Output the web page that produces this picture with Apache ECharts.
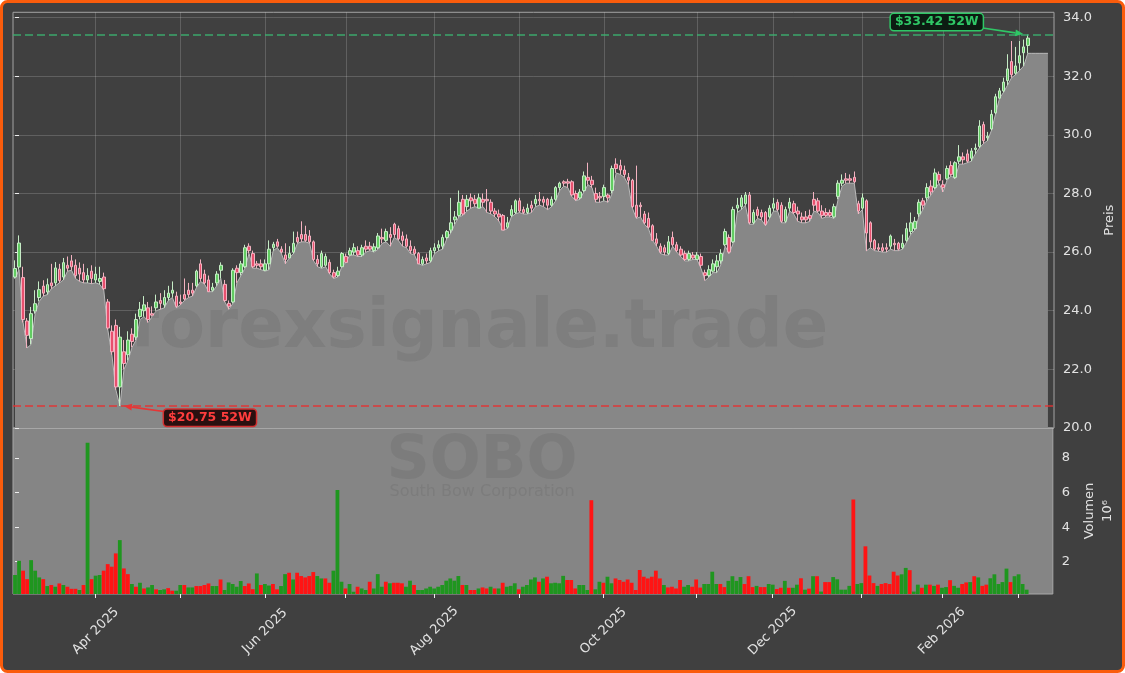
<!DOCTYPE html>
<html><head><meta charset="utf-8">
<script src="https://cdn.jsdelivr.net/npm/echarts@6/dist/echarts.min.js"></script>
<style>html,body{margin:0;padding:0;background:#ffffff;}#c{width:1125px;height:673px;}</style>
</head><body><div id="c"></div>
<script>
// ---- data (trading sessions: index 0 = 2025-03-04 ... index 251 = 2026-03-04) ----
const monthTickIdx = [20,41,62,82,104,125,146,169,188,210,230,249];
const monthTickLabels = ['Apr 2025','May 2025','Jun 2025','Jul 2025','Aug 2025','Sep 2025','Oct 2025','Nov 2025','Dec 2025','Jan 2026','Feb 2026','Mar 2026'];
const labelledMonths = ['Apr 2025','Jun 2025','Aug 2025','Oct 2025','Dec 2025','Feb 2026'];
const priceTicks = [20,22,24,26,28,30,32,34];
const volumeTicks = [2,4,6,8];

const opens = [25.15,25.49,25.13,23.65,23.05,23.99,24.45,24.84,24.64,24.95,
24.95,25.42,25.15,25.55,25.70,25.55,25.45,25.30,25.05,25.35,
25.05,25.00,25.15,24.30,23.30,23.50,21.40,22.60,22.50,23.20,
23.10,23.80,24.00,24.10,23.90,24.10,24.35,24.20,24.45,24.60,
24.50,24.30,24.55,24.70,24.70,24.85,25.60,25.25,25.05,24.70,
24.95,25.38,24.90,24.25,24.30,25.45,25.30,25.50,26.20,25.95,
25.60,25.60,25.38,25.60,26.15,26.35,26.10,25.90,25.80,26.00,
26.50,26.60,26.60,26.55,26.35,25.75,25.50,25.55,25.65,25.30,
25.20,25.50,25.85,25.90,26.00,26.05,25.90,26.20,26.20,26.05,
26.15,26.50,26.40,26.60,26.95,26.80,26.55,26.45,26.20,26.10,
25.95,25.60,25.80,25.70,26.05,26.15,26.20,26.50,26.75,27.10,
27.25,27.80,27.55,27.85,27.80,27.50,27.80,27.80,27.70,27.40,
27.30,27.25,26.85,27.25,27.35,27.75,27.45,27.35,27.60,27.65,
27.80,27.80,27.80,27.60,27.80,28.20,28.40,28.40,28.40,28.00,
27.85,28.10,28.55,28.45,28.00,27.90,27.90,27.95,28.10,29.00,
28.95,28.80,28.55,28.45,27.60,27.60,27.30,27.15,26.90,26.45,
26.20,26.15,25.95,26.50,26.25,26.10,25.95,25.75,25.90,25.75,
25.85,25.30,25.20,25.35,25.50,25.70,26.25,26.50,26.35,27.50,
27.55,27.65,27.95,27.00,27.45,27.35,27.35,27.20,27.50,27.70,
27.60,27.05,27.50,27.65,27.40,27.20,27.20,27.25,27.80,27.75,
27.40,27.35,27.35,27.20,27.90,28.35,28.50,28.50,28.55,27.65,
27.50,27.75,27.00,26.40,26.15,26.15,26.15,26.20,26.30,26.30,
26.15,26.40,26.70,26.80,27.30,27.75,27.85,28.25,28.20,28.65,
28.30,28.50,28.95,28.55,29.10,29.25,29.35,29.20,29.50,29.60,
30.35,29.90,30.20,30.75,31.25,31.50,31.85,32.50,32.10,32.45,
32.80,33.05];
const closes = [25.44,26.31,23.70,23.16,23.90,24.24,24.72,24.60,24.89,24.85,
25.46,25.03,25.64,25.45,25.50,25.20,25.25,25.05,25.20,25.10,
25.25,25.10,24.75,23.41,22.60,21.40,23.10,22.20,23.00,22.95,
23.70,24.05,24.20,23.70,23.85,24.30,24.25,24.45,24.60,24.70,
24.15,24.25,24.40,24.55,24.60,25.35,25.10,24.95,24.65,24.80,
25.25,25.55,24.35,24.15,25.38,25.30,25.60,26.15,26.05,25.50,
25.55,25.50,25.60,26.10,26.27,26.20,26.00,25.75,25.95,26.30,
26.35,26.45,26.40,26.35,25.75,25.60,25.95,25.85,25.30,25.15,
25.35,25.95,25.65,26.05,26.15,25.90,26.15,26.10,26.10,26.18,
26.55,26.45,26.70,26.50,26.60,26.45,26.40,26.20,26.05,25.95,
25.60,25.75,25.70,26.05,26.15,26.25,26.50,26.70,27.00,27.20,
27.70,27.30,27.80,27.75,27.65,27.85,27.70,27.75,27.40,27.30,
27.20,26.75,27.00,27.45,27.75,27.40,27.35,27.50,27.50,27.80,
27.75,27.70,27.60,27.80,28.20,28.35,28.35,28.35,27.95,27.80,
28.05,28.60,28.45,28.30,27.80,27.85,28.20,27.85,28.85,28.85,
28.80,28.65,28.45,27.55,27.20,27.55,27.00,26.85,26.40,26.30,
26.00,26.00,26.35,26.25,26.05,25.90,25.75,25.95,25.80,25.90,
25.55,25.20,25.40,25.60,25.70,25.95,26.70,26.00,27.45,27.60,
27.85,27.95,27.00,27.35,27.25,27.20,26.95,27.50,27.65,27.45,
27.05,27.45,27.70,27.35,27.30,27.10,27.10,27.15,27.60,27.40,
27.25,27.25,27.25,27.55,28.35,28.45,28.45,28.45,28.40,27.40,
27.85,26.65,26.35,26.10,26.10,26.05,26.10,26.55,26.25,26.10,
26.30,26.80,27.00,27.05,27.70,27.60,28.20,28.05,28.70,28.45,
28.20,28.85,28.65,29.05,29.25,29.15,29.10,29.45,29.55,30.30,
29.80,29.95,30.70,31.30,31.50,31.80,32.25,32.05,32.35,32.70,
33.00,33.30];
const lows = [25.10,25.40,23.60,22.73,22.85,23.90,24.32,24.50,24.55,24.75,
24.85,24.95,25.05,25.35,25.38,25.10,25.00,24.95,24.95,24.92,
24.95,24.90,24.70,23.35,22.50,21.30,20.75,22.00,22.30,22.75,
23.00,23.70,23.80,23.60,23.80,24.00,24.05,24.10,24.35,24.45,
24.10,24.20,24.35,24.45,24.50,24.80,25.00,24.90,24.65,24.65,
24.85,25.10,24.30,24.05,24.25,24.95,25.20,25.45,25.95,25.45,
25.45,25.40,25.35,25.40,26.05,26.15,25.95,25.60,25.80,25.95,
26.30,26.35,26.35,26.30,25.70,25.50,25.45,25.50,25.25,25.10,
25.15,25.50,25.65,25.90,25.90,25.85,25.85,26.00,26.05,26.00,
26.10,26.30,26.35,26.20,26.50,26.40,26.20,26.15,25.95,25.90,
25.60,25.55,25.60,25.65,25.95,26.05,26.10,26.45,26.65,26.95,
27.20,27.25,27.40,27.50,27.55,27.50,27.55,27.35,27.30,27.20,
27.05,26.75,26.80,27.20,27.30,27.35,27.30,27.30,27.35,27.55,
27.60,27.55,27.45,27.55,27.75,28.10,28.25,28.20,27.90,27.75,
27.80,28.05,28.30,28.20,27.70,27.70,27.75,27.70,28.00,28.70,
28.65,28.55,28.30,27.50,27.15,27.20,26.95,26.80,26.40,26.20,
25.95,25.90,25.90,26.20,26.00,25.85,25.70,25.70,25.75,25.75,
25.45,25.03,25.15,25.30,25.30,25.60,26.20,25.95,26.30,27.35,
27.45,27.60,26.95,26.95,27.15,27.10,26.90,27.15,27.40,27.40,
27.00,27.00,27.40,27.30,27.05,27.00,27.00,27.05,27.40,27.35,
27.15,27.20,27.20,27.15,27.80,28.25,28.35,28.35,28.35,27.30,
27.45,26.04,26.15,26.05,26.03,26.00,26.00,26.10,26.05,26.05,
26.10,26.35,26.60,26.75,27.20,27.45,27.75,27.95,28.15,28.35,
28.05,28.45,28.60,28.50,29.00,29.00,29.05,29.10,29.35,29.55,
29.70,29.80,30.15,30.70,31.25,31.45,31.70,31.95,32.05,32.20,
32.35,32.78];
const highs = [25.72,26.57,25.50,23.75,24.13,24.70,25.00,25.04,25.10,25.60,
25.66,25.60,25.80,25.85,25.90,25.75,25.65,25.60,25.45,25.55,
25.50,25.50,25.30,24.40,23.50,23.70,23.45,23.00,23.30,23.40,
23.90,24.30,24.50,24.30,24.15,24.55,24.60,24.70,24.85,25.00,
24.65,24.55,25.10,24.95,24.95,25.40,25.75,25.40,25.20,24.95,
25.35,25.65,25.05,24.35,25.45,25.55,25.70,26.25,26.30,26.05,
25.70,25.75,25.75,26.40,26.35,26.45,26.20,26.30,26.20,26.70,
26.70,27.05,26.90,26.75,26.40,25.90,26.05,25.95,25.75,25.40,
25.50,26.00,25.95,26.15,26.30,26.20,26.25,26.40,26.35,26.30,
26.65,26.80,26.80,26.85,27.00,26.90,26.70,26.60,26.40,26.20,
26.00,25.85,25.95,26.15,26.30,26.40,26.60,26.75,27.85,27.40,
28.10,27.95,27.95,28.00,27.95,28.00,28.00,28.15,27.80,27.50,
27.45,27.30,27.20,27.60,27.80,27.85,27.55,27.65,27.75,27.95,
28.05,27.90,27.85,27.90,28.25,28.40,28.45,28.50,28.45,28.10,
28.15,28.75,29.05,28.60,28.20,28.05,28.30,28.00,28.95,29.20,
29.15,28.95,28.70,28.50,28.95,27.70,27.40,27.35,26.95,26.65,
26.30,26.25,26.55,26.70,26.35,26.20,26.05,26.05,26.00,26.00,
25.95,25.40,25.55,25.75,25.90,26.10,26.80,26.60,27.55,27.85,
27.95,28.05,28.05,27.45,27.55,27.45,27.40,27.60,27.85,27.80,
27.70,27.55,27.85,27.75,27.55,27.35,27.40,27.45,28.05,27.85,
27.60,27.50,27.45,27.65,28.45,28.65,28.70,28.65,28.75,27.75,
28.00,27.80,27.05,26.45,26.30,26.30,26.30,26.60,26.45,26.35,
26.60,27.00,27.35,27.20,27.80,27.85,28.35,28.45,28.85,28.75,
28.45,28.95,29.10,29.10,29.65,29.40,29.50,29.55,29.70,30.50,
30.45,30.10,30.85,31.40,31.60,31.95,32.75,33.20,33.00,33.20,
33.25,33.42];
// low-price band is carried flat for five sessions past the last candle
const lowsExtension = [32.78,32.78,32.78,32.78,32.78];
// volume in millions
const volumes = [1.23,2.05,1.48,0.99,2.09,1.48,1.09,0.99,0.59,0.65,
0.55,0.74,0.65,0.55,0.43,0.43,0.36,0.65,8.88,0.99,
1.19,1.23,1.48,1.86,1.71,2.48,3.25,1.61,1.28,0.71,
0.55,0.78,0.45,0.51,0.65,0.40,0.36,0.40,0.47,0.32,
0.32,0.65,0.65,0.51,0.51,0.59,0.59,0.65,0.74,0.59,
0.59,0.97,0.36,0.80,0.71,0.55,0.88,0.59,0.74,0.41,
1.32,0.65,0.71,0.62,0.71,0.40,0.59,1.28,1.36,0.97,
1.36,1.17,1.09,1.17,1.40,1.17,1.03,1.03,0.78,1.48,
6.15,0.84,0.45,0.71,0.26,0.55,0.45,0.36,0.84,0.45,
1.28,0.55,0.84,0.75,0.78,0.78,0.75,0.55,0.90,0.65,
0.36,0.36,0.45,0.55,0.45,0.55,0.65,0.90,1.03,0.90,
1.17,0.65,0.65,0.36,0.36,0.45,0.51,0.45,0.55,0.45,
0.45,0.78,0.55,0.60,0.75,0.40,0.55,0.65,0.97,1.09,
0.84,1.03,1.13,0.75,0.78,0.75,1.18,0.94,0.94,0.45,
0.65,0.65,0.36,5.56,0.40,0.84,0.78,1.13,0.75,1.03,
0.94,0.84,0.97,0.78,0.36,1.52,1.13,1.03,1.13,1.48,
1.03,0.65,0.51,0.55,0.45,0.94,0.55,0.65,0.55,0.97,
0.50,0.71,0.71,1.42,0.71,0.71,0.53,0.89,1.16,0.89,
1.11,0.71,1.16,0.53,0.60,0.53,0.53,0.71,0.67,0.42,
0.49,0.89,0.49,0.49,0.67,1.04,0.38,0.44,1.16,1.16,
0.27,0.82,0.82,1.11,0.98,0.38,0.38,0.60,5.60,0.71,
0.76,2.89,1.20,0.76,0.60,0.71,0.76,0.71,1.42,1.20,
1.27,1.64,1.51,0.27,0.67,0.49,0.67,0.67,0.60,0.67,
0.49,0.53,0.93,0.60,0.49,0.71,0.80,0.82,1.16,1.09,
0.60,0.67,1.04,1.27,0.71,0.82,1.60,0.82,1.16,1.27,
0.71,0.38];
// G = up-volume bar, R = down-volume bar
const volumeDirection = ('GGRRGGGRGR'+'GRGRRRGRGR'+'GGRRRRGRRG'+'RGRGGRGGRR'+'GGRGGRRRRG'+
  'GRGGGGGRRR'+'GRGGRRGGRG'+'RRRRRGGRRG'+'GGRGGRGGRG'+'GGRGRRRGGR'+
  'GGGGGGGGGG'+'GRGRRGRRGR'+'GRGGGRGGGG'+'RGRGGGGRRR'+'GGGRGGRGGR'+
  'RRRRRRRRRR'+'RGRRRRGGRR'+'RGGGGRRGGG'+'GRRRGRRGGR'+'RGRGGRGRGR'+
  'GRRGGGGGRG'+'GRRRGRRRRR'+'GGRGGRGRGR'+'GGRGGRRGRG'+'RRGGGGGRGG'+'GG').split('');

// ---- chart ----
const FONT = '"DejaVu Sans", "Liberation Sans", sans-serif';
const TXT = '#e2e2e2';
const N = opens.length;
const X_MIN = -0.5, X_MAX = N + 5.5;

const candleData = opens.map((o, i) => [i, o, closes[i], lows[i], highs[i]]);
const areaData = lows.map((l, i) => [i, l]).concat(lowsExtension.map((l, k) => [N + k, l]));
const volData = volumes.map((v, i) => ({
  value: [i, v],
  itemStyle: { color: volumeDirection[i] === 'G' ? '#1f961f' : '#ff1414' }
}));
const hiVal = Math.max.apply(null, highs), hiIdx = highs.indexOf(hiVal);
const loVal = Math.min.apply(null, lows), loIdx = lows.indexOf(loVal);
const labelIdx = labelledMonths.map(m => monthTickIdx[monthTickLabels.indexOf(m)]);

const chart = echarts.init(document.getElementById('c'), null, { renderer: 'canvas', width: 1125, height: 673 });

chart.setOption({
  animation: false,
  backgroundColor: 'transparent',
  textStyle: { fontFamily: FONT },
  grid: [
    { left: 13, right: 71, top: 12.3, height: 415.7, show: true, backgroundColor: '#404040', borderColor: '#a3a3a3', borderWidth: 1, z: 0 },
    { left: 13, right: 71, top: 428, height: 166, show: true, backgroundColor: '#858585', borderColor: '#a8a8a8', borderWidth: 1, z: 0 }
  ],
  xAxis: [
    { type: 'value', gridIndex: 0, min: X_MIN, max: X_MAX,
      axisLine: { show: false }, axisLabel: { show: false },
      axisTick: { show: false, customValues: monthTickIdx },
      splitLine: { show: true, lineStyle: { color: 'rgba(255,255,255,0.17)', width: 1 } } },
    { type: 'value', gridIndex: 1, min: X_MIN, max: X_MAX,
      axisLine: { show: false },
      axisTick: { show: true, customValues: monthTickIdx, length: 4, lineStyle: { color: '#eeeeee', width: 1 } },
      axisLabel: { show: true, customValues: labelIdx, rotate: 45, align: 'center', verticalAlign: 'middle', margin: 37,
        color: TXT, fontSize: 13, fontFamily: FONT,
        formatter: v => monthTickLabels[monthTickIdx.indexOf(Math.round(v))] || '' },
      splitLine: { show: false } }
  ],
  yAxis: [
    { type: 'value', gridIndex: 0, position: 'right', min: 20, max: 34.18,
      axisLine: { show: false },
      axisTick: { show: true, customValues: priceTicks, length: 4, lineStyle: { color: '#eeeeee' } },
      axisLabel: { customValues: priceTicks, formatter: v => v.toFixed(1), color: TXT, fontSize: 13, fontFamily: FONT, margin: 9 },
      splitLine: { show: true, lineStyle: { color: 'rgba(255,255,255,0.17)', width: 1 } },
      name: 'Preis', nameLocation: 'middle', nameGap: 44,
      nameTextStyle: { color: TXT, fontSize: 13, fontFamily: FONT } },
    { type: 'value', gridIndex: 1, position: 'right', min: 0.13, max: 9.74,
      axisLine: { show: false },
      axisTick: { show: true, customValues: volumeTicks, length: 4, lineStyle: { color: '#eeeeee' } },
      axisLabel: { customValues: volumeTicks, formatter: v => String(v), color: TXT, fontSize: 13, fontFamily: FONT, margin: 9 },
      splitLine: { show: false },
      name: 'Volumen\n10\u2076', nameLocation: 'middle', nameGap: 23,
      nameTextStyle: { color: TXT, fontSize: 13, fontFamily: FONT, lineHeight: 18 } }
  ],
  series: [
    { type: 'line', name: 'low', xAxisIndex: 0, yAxisIndex: 0, data: areaData, symbol: 'none', z: 1,
      lineStyle: { color: '#b9b9b9', width: 1 }, areaStyle: { color: '#878787', opacity: 1, origin: 'start' } },
    { type: 'candlestick', name: 'SOBO', xAxisIndex: 0, yAxisIndex: 0, data: candleData, z: 3,
      encode: { x: 0, y: [1, 2, 3, 4] }, barWidth: 3,
      itemStyle: { color: '#62cc62', color0: '#e8506e', borderColor: '#c6ecc6', borderColor0: '#f3b3c1', borderWidth: 1 },
      markLine: { silent: true, symbol: 'none', label: { show: false },
        data: [
          { yAxis: hiVal, lineStyle: { color: 'rgba(60,179,113,0.9)', type: [8, 4], width: 1.5 } },
          { yAxis: loVal, lineStyle: { color: 'rgba(232,48,48,0.9)', type: [8, 4], width: 1.5 } }
        ] } },
    { type: 'bar', name: 'Volumen', xAxisIndex: 1, yAxisIndex: 1, data: volData, barWidth: 3.8, z: 3 }
  ]
});

function arrow(s, e, color) {
  const dx = e[0] - s[0], dy = e[1] - s[1], len = Math.hypot(dx, dy);
  const ux = dx / len, uy = dy / len, px = -uy, py = ux;
  const bx = e[0] - ux * 8, by = e[1] - uy * 8;
  return [
    { type: 'line', z: 20, shape: { x1: s[0], y1: s[1], x2: bx, y2: by }, style: { stroke: color, lineWidth: 1.6 } },
    { type: 'polygon', z: 20, shape: { points: [[e[0], e[1]], [bx + px * 3.5, by + py * 3.5], [bx - px * 3.5, by - py * 3.5]] }, style: { fill: color } }
  ];
}

const pHi = chart.convertToPixel({ xAxisIndex: 0, yAxisIndex: 0 }, [hiIdx, hiVal]);
const pLo = chart.convertToPixel({ xAxisIndex: 0, yAxisIndex: 0 }, [loIdx, loVal]);
const GREEN = '#2fc766', RED = '#e83535';

const graphics = [
  { type: 'rect', z: -10, shape: { x: 1.5, y: 1.5, width: 1122, height: 670, r: 6 },
    style: { fill: '#404040', stroke: '#fa5c0c', lineWidth: 3 } },
  { type: 'text', z: 2, x: 479, y: 330, silent: true,
    style: { text: 'forexsignale.trade', font: 'bold 67px ' + FONT, fill: 'rgba(40,40,40,0.085)', align: 'center', verticalAlign: 'middle' } },
  { type: 'text', z: 2, x: 482, y: 462, silent: true,
    style: { text: 'SOBO', font: 'bold 60px ' + FONT, fill: 'rgba(40,40,40,0.085)', align: 'center', verticalAlign: 'middle' } },
  { type: 'text', z: 2, x: 482, y: 492, silent: true,
    style: { text: 'South Bow Corporation', font: '16px ' + FONT, fill: 'rgba(40,40,40,0.085)', align: 'center', verticalAlign: 'middle' } },
  { type: 'text', z: 21, x: pHi[0] - 91, y: pHi[1] - 12.5,
    style: { text: '$' + hiVal.toFixed(2) + ' 52W', font: 'bold 12.5px ' + FONT, fill: GREEN, align: 'center', verticalAlign: 'middle',
      backgroundColor: '#0c1c12', borderColor: GREEN, borderWidth: 1.5, borderRadius: 3, padding: [2, 4, 1, 4] } },
  { type: 'text', z: 21, x: pLo[0] + 90, y: pLo[1] + 11.7,
    style: { text: '$' + loVal.toFixed(2) + ' 52W', font: 'bold 12.5px ' + FONT, fill: '#ff3d3d', align: 'center', verticalAlign: 'middle',
      backgroundColor: '#2a1010', borderColor: '#d33030', borderWidth: 1.5, borderRadius: 3, padding: [2, 4, 1, 4] } }
].concat(
  arrow([pHi[0] - 45, pHi[1] - 6.5], [pHi[0] - 4.5, pHi[1] - 0.5], GREEN),
  arrow([pLo[0] + 44, pLo[1] + 5.5], [pLo[0] + 4, pLo[1]], RED)
);
chart.setOption({ graphic: graphics });
</script>
</body></html>
